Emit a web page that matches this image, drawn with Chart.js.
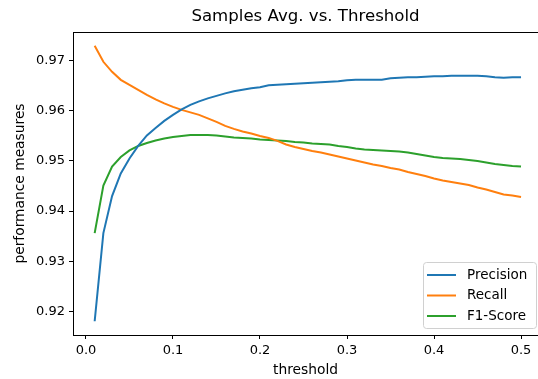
<!DOCTYPE html>
<html>
<head>
<meta charset="utf-8">
<script src="https://cdn.jsdelivr.net/npm/chart.js@4.4.0/dist/chart.umd.min.js"></script>
<style>
    html, body { margin: 0; padding: 0; background: #fff; }
</style>
</head>
<body>
<canvas id="lineChart" width="538" height="379"></canvas>
<script>
const thresholds = [
    0.01, 0.02, 0.03, 0.04, 0.05, 0.06, 0.07, 0.08, 0.09, 0.10,
    0.11, 0.12, 0.13, 0.14, 0.15, 0.16, 0.17, 0.18, 0.19, 0.20,
    0.21, 0.22, 0.23, 0.24, 0.25, 0.26, 0.27, 0.28, 0.29, 0.30,
    0.31, 0.32, 0.33, 0.34, 0.35, 0.36, 0.37, 0.38, 0.39, 0.40,
    0.41, 0.42, 0.43, 0.44, 0.45, 0.46, 0.47, 0.48, 0.49, 0.50
];
const precision = [
    0.9180, 0.9356, 0.9430, 0.9475, 0.9505, 0.9530, 0.9551, 0.9566, 0.9580, 0.9592,
    0.9603, 0.9612, 0.9619, 0.9625, 0.9630, 0.9635, 0.9639, 0.9642, 0.9645, 0.9647,
    0.9651, 0.9652, 0.9653, 0.9654, 0.9655, 0.9656, 0.9657, 0.9658, 0.9659, 0.9661,
    0.9662, 0.9662, 0.9662, 0.9662, 0.9665, 0.9666, 0.9667, 0.9667, 0.9668, 0.9669,
    0.9669, 0.9670, 0.9670, 0.9670, 0.9670, 0.9669, 0.9667, 0.9666, 0.9667, 0.9667
];
const recall = [
    0.9730, 0.9698, 0.9678, 0.9662, 0.9652, 0.9642, 0.9632, 0.9623, 0.9615, 0.9608,
    0.9602, 0.9597, 0.9592, 0.9585, 0.9578, 0.9570, 0.9564, 0.9559, 0.9555, 0.9550,
    0.9546, 0.9540, 0.9533, 0.9528, 0.9524, 0.9520, 0.9517, 0.9513, 0.9509, 0.9505,
    0.9501, 0.9497, 0.9493, 0.9490, 0.9486, 0.9483, 0.9478, 0.9474, 0.9470, 0.9465,
    0.9461, 0.9458, 0.9455, 0.9452, 0.9447, 0.9443, 0.9438, 0.9433, 0.9431, 0.9428
];
const f1Score = [
    0.9356, 0.9451, 0.9489, 0.9508, 0.9521, 0.9530, 0.9536, 0.9541, 0.9545, 0.9548,
    0.9550, 0.9552, 0.9552, 0.9552, 0.9551, 0.9549, 0.9547, 0.9546, 0.9545, 0.9543,
    0.9542, 0.9541, 0.9540, 0.9538, 0.9537, 0.9535, 0.9534, 0.9533, 0.9530, 0.9528,
    0.9525, 0.9523, 0.9522, 0.9521, 0.9520, 0.9519, 0.9517, 0.9514, 0.9511, 0.9508,
    0.9506, 0.9505, 0.9504, 0.9502, 0.9500, 0.9497, 0.9494, 0.9492, 0.9490, 0.9489
];
const xTicks = [0.0, 0.1, 0.2, 0.3, 0.4, 0.5];
const yTicks = [0.92, 0.93, 0.94, 0.95, 0.96, 0.97];
const chartTitle = 'Samples Avg. vs. Threshold';

const FONT = "'DejaVu Sans', sans-serif";
const toPoints = values => values.map((v, i) => ({ x: thresholds[i], y: v }));

const series = (label, values, color) => ({
    label: label,
    data: toPoints(values),
    borderColor: color,
    backgroundColor: color,
    borderWidth: 2,
    pointRadius: 0,
    tension: 0,
    fill: false
});

// title centred over the plot, plus the top spine like matplotlib
const frame = {
    id: 'frame',
    afterDraw(chart) {
        const { ctx, chartArea } = chart;
        ctx.save();
        ctx.strokeStyle = '#000';
        ctx.lineWidth = 1;
        ctx.beginPath();
        ctx.moveTo(chartArea.left, chartArea.top + 0.5);
        ctx.lineTo(chartArea.right, chartArea.top + 0.5);
        ctx.stroke();
        ctx.fillStyle = '#000';
        ctx.font = `16.6px ${FONT}`;
        ctx.textAlign = 'center';
        ctx.textBaseline = 'middle';
        ctx.fillText(chartTitle, (chartArea.left + chartArea.right) / 2, 17);
        ctx.restore();
    }
};

// legend box in the lower right corner
const innerLegend = {
    id: 'innerLegend',
    afterDraw(chart) {
        const { ctx } = chart;
        const x = 423.5, y = 262.5, w = 113, h = 66;
        ctx.save();
        ctx.beginPath();
        ctx.roundRect(x, y, w, h, 3);
        ctx.fillStyle = 'rgba(255,255,255,0.8)';
        ctx.fill();
        ctx.strokeStyle = '#d0d0d0';
        ctx.lineWidth = 1;
        ctx.stroke();
        ctx.font = `13.5px ${FONT}`;
        ctx.textBaseline = 'middle';
        ctx.fillStyle = '#000';
        chart.data.datasets.forEach((ds, i) => {
            const cy = 275 + i * 20.5;
            ctx.strokeStyle = ds.borderColor;
            ctx.lineWidth = 2;
            ctx.beginPath();
            ctx.moveTo(427, cy);
            ctx.lineTo(456, cy);
            ctx.stroke();
            ctx.fillText(ds.label, 467, cy);
        });
        ctx.restore();
    }
};

const chart = new Chart(document.getElementById('lineChart'), {
    type: 'line',
    data: {
        datasets: [
            series('Precision', precision, '#1f77b4'),
            series('Recall', recall, '#ff7f0e'),
            series('F1-Score', f1Score, '#2ca02c')
        ]
    },
    options: {
        responsive: false,
        animation: false,
        layout: { padding: { left: 0, right: -2, top: 32, bottom: 0 } },
        plugins: {
            legend: { display: false },
            tooltip: { enabled: false },
            title: { display: false }
        },
        scales: {
            x: {
                type: 'linear',
                min: -0.0149,
                max: 0.5195,
                afterBuildTicks: scale => { scale.ticks = xTicks.map(v => ({ value: v })); },
                afterFit: scale => { scale.height = 44; },
                ticks: {
                    color: '#000',
                    font: { family: FONT, size: 13 },
                    padding: 4,
                    maxRotation: 0,
                    autoSkip: false,
                    callback: v => v.toFixed(1)
                },
                grid: { drawOnChartArea: false, drawTicks: true, tickLength: 4, tickColor: '#000' },
                border: { display: true, color: '#000', width: 1 },
                title: {
                    display: true,
                    text: 'threshold',
                    color: '#000',
                    font: { family: FONT, size: 13.8 },
                    padding: { top: 0, bottom: 0 }
                }
            },
            y: {
                type: 'linear',
                min: 0.91525,
                max: 0.97575,
                afterBuildTicks: scale => { scale.ticks = yTicks.map(v => ({ value: v })); },
                afterFit: scale => { scale.width = 73; },
                ticks: {
                    color: '#000',
                    font: { family: FONT, size: 13 },
                    padding: 4,
                    autoSkip: false,
                    callback: v => v.toFixed(2)
                },
                grid: { drawOnChartArea: false, drawTicks: true, tickLength: 4, tickColor: '#000' },
                border: { display: true, color: '#000', width: 1 },
                title: {
                    display: true,
                    text: 'performance measures',
                    color: '#000',
                    font: { family: FONT, size: 13.8 },
                    padding: { top: 12, bottom: 0 }
                }
            }
        }
    },
    plugins: [frame, innerLegend]
});
</script>
</body>
</html>
